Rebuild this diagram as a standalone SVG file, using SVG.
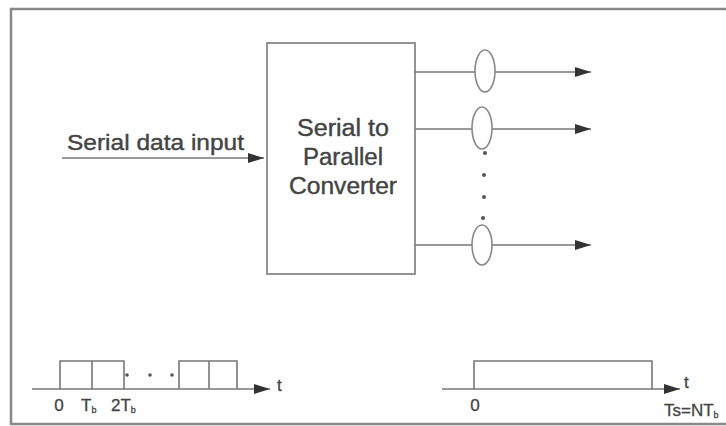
<svg xmlns="http://www.w3.org/2000/svg" width="726" height="426" viewBox="0 0 726 426">
<defs>
<marker id="ah" viewBox="0 0 16 10" refX="16" refY="5" markerWidth="16" markerHeight="10" markerUnits="userSpaceOnUse" orient="auto">
<path d="M0,0 L16,5 L0,10 Z" fill="#333"/>
</marker>
</defs>
<style>
.ln{stroke:#777;stroke-width:1.6;fill:none}
.frame{stroke:#888;stroke-width:2.5;fill:none}
.box{stroke:#888;stroke-width:1.8;fill:#fff}
.ell{stroke:#888;stroke-width:1.6;fill:#fff}
.t{font-family:"Liberation Sans",Arial,sans-serif;fill:#444;stroke:#444;stroke-width:0.4}
.s{font-family:"Liberation Sans",Arial,sans-serif;fill:#444;stroke:#444;stroke-width:0.3}
.dot{fill:#555}
</style>
<rect width="726" height="426" fill="#fff"/>
<rect class="frame" x="11" y="9" width="730" height="415"/>

<g id="converter">
<rect class="box" x="267" y="43" width="148" height="231"/>
<text class="t" font-size="23" text-anchor="middle" x="343" y="136" textLength="92" lengthAdjust="spacingAndGlyphs">Serial to</text>
<text class="t" font-size="23" text-anchor="middle" x="343" y="165" textLength="80" lengthAdjust="spacingAndGlyphs">Parallel</text>
<text class="t" font-size="23" text-anchor="middle" x="343" y="194" textLength="108" lengthAdjust="spacingAndGlyphs">Converter</text>
</g>

<g id="input-label">
<text class="t" font-size="22" x="67" y="150" textLength="177" lengthAdjust="spacingAndGlyphs">Serial data input</text>
</g>

<g id="connectors">
<line class="ln" x1="62" y1="158" x2="264" y2="158" marker-end="url(#ah)"/>
<line class="ln" x1="415" y1="72" x2="591" y2="72" marker-end="url(#ah)"/>
<line class="ln" x1="415" y1="129" x2="591" y2="129" marker-end="url(#ah)"/>
<line class="ln" x1="415" y1="245" x2="591" y2="245" marker-end="url(#ah)"/>
</g>

<g id="switch1"><ellipse class="ell" cx="485" cy="71" rx="10" ry="21"/></g>
<g id="switch2"><ellipse class="ell" cx="482" cy="128" rx="10" ry="21"/></g>
<g id="switch3"><ellipse class="ell" cx="482" cy="245" rx="10" ry="20"/></g>
<g id="vdots">
<circle class="dot" cx="485" cy="153" r="2"/>
<circle class="dot" cx="484" cy="175" r="2"/>
<circle class="dot" cx="484" cy="197" r="2"/>
<circle class="dot" cx="483" cy="218" r="2"/>
</g>

<g id="serial-waveform">
<line class="ln" x1="32" y1="389" x2="270" y2="389" marker-end="url(#ah)"/>
<polyline class="ln" points="60,389 60,361 124,361 124,389"/>
<line class="ln" x1="92" y1="361" x2="92" y2="389"/>
<polyline class="ln" points="179,389 179,361 237,361 237,389"/>
<line class="ln" x1="209" y1="361" x2="209" y2="389"/>
<circle class="dot" cx="127" cy="375" r="1.8"/>
<circle class="dot" cx="150" cy="375" r="1.8"/>
<circle class="dot" cx="172" cy="375" r="1.8"/>
<text class="s" font-size="17" x="277" y="391">t</text>
<text class="s" font-size="17" text-anchor="middle" x="59" y="411">0</text>
<text class="s" font-size="17" x="81" y="411">T<tspan font-size="9" dy="2">b</tspan></text>
<text class="s" font-size="17" x="111" y="411">2T<tspan font-size="9" dy="2">b</tspan></text>
</g>

<g id="parallel-waveform">
<line class="ln" x1="442" y1="389" x2="680" y2="389" marker-end="url(#ah)"/>
<polyline class="ln" points="474,389 474,361 652,361 652,389"/>
<text class="s" font-size="17" x="684" y="388">t</text>
<text class="s" font-size="17" text-anchor="middle" x="475" y="411">0</text>
<text class="s" font-size="17" x="664" y="416">Ts=NT<tspan font-size="9" dy="2">b</tspan></text>
</g>
</svg>
